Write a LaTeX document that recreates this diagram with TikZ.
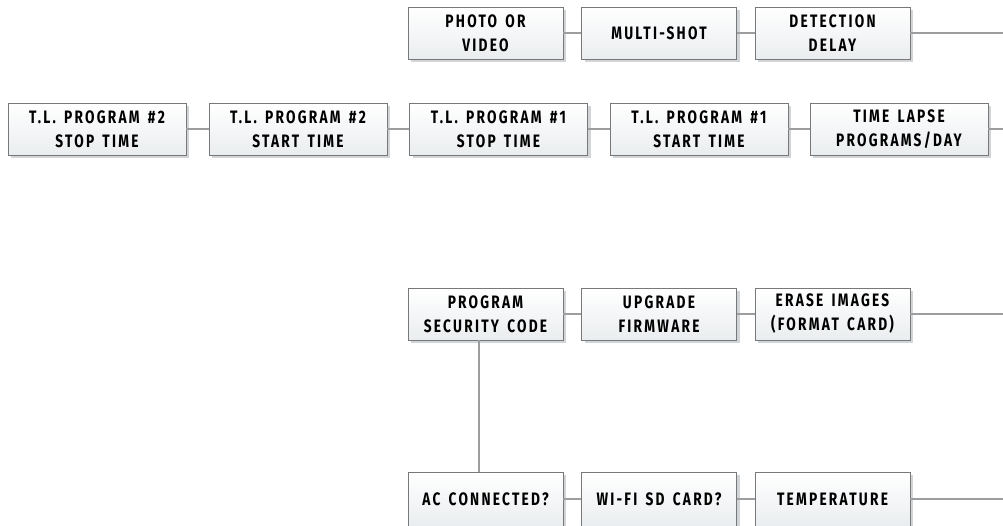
\documentclass[tikz,border=0pt]{standalone}
\usepackage{fontspec}
\newfontfamily\boxfont[FakeStretch=0.76,LetterSpace=12.5,WordSpace=1.5]{Fira Sans}
\usetikzlibrary{shadows}
\definecolor{boxedge}{RGB}{120,120,120}
\definecolor{conn}{RGB}{155,157,159}
\definecolor{shade}{RGB}{210,213,215}
\definecolor{boxbot}{RGB}{234,237,239}
\tikzset{
  menubox/.style={draw=boxedge, line width=0.9pt, top color=white, bottom color=boxbot,
    minimum height=52pt, inner sep=0pt, align=center,
    font=\boxfont\bfseries\fontsize{18}{24}\selectfont,
    drop shadow={shadow xshift=3pt, shadow yshift=-3pt, fill=shade, opacity=1}},
  narrowbox/.style={menubox, minimum width=155pt},
  widebox/.style={menubox, minimum width=178pt},
  link/.style={draw=conn, line width=2pt}
}
\begin{document}
\begin{tikzpicture}[x=1pt,y=-1pt]
\useasboundingbox (0,0) rectangle (1003,526);
\clip (0,0) rectangle (1003,526);
% top row
\node[narrowbox] (photo) at (485.5,33) {PHOTO OR\\VIDEO};
\node[narrowbox] (multi) at (659,33) {MULTI-SHOT};
\node[narrowbox] (delay) at (832.5,33) {DETECTION\\DELAY};
\coordinate (e1) at (1003,33);
% second row
\node[widebox] (p2stop) at (97,129) {T.L. PROGRAM \#2\\STOP TIME};
\node[widebox] (p2start) at (298,129) {T.L. PROGRAM \#2\\START TIME};
\node[widebox] (p1stop) at (498.5,129) {T.L. PROGRAM \#1\\STOP TIME};
\node[widebox] (p1start) at (699,129) {T.L. PROGRAM \#1\\START TIME};
\node[widebox] (tlpd) at (899,129) {TIME LAPSE\\PROGRAMS/DAY};
\coordinate (e2) at (1003,129);
% third row
\node[narrowbox] (sec) at (485.5,314) {PROGRAM\\SECURITY CODE};
\node[narrowbox] (fw) at (659,314) {UPGRADE\\FIRMWARE};
\node[narrowbox] (erase) at (832.5,314) {ERASE IMAGES\\(FORMAT CARD)};
\coordinate (e3) at (1003,314);
% bottom row
\node[narrowbox, minimum height=54pt] (ac) at (485.5,499) {AC CONNECTED?};
\node[narrowbox, minimum height=54pt] (wifi) at (659,499) {WI-FI SD CARD?};
\node[narrowbox, minimum height=54pt] (temp) at (832.5,499) {TEMPERATURE};
\coordinate (e4) at (1003,499);
% connectors
\draw[link] (photo) -- (multi);
\draw[link] (multi) -- (delay);
\draw[link] (delay) -- (e1);
\draw[link] (p2stop) -- (p2start);
\draw[link] (p2start) -- (p1stop);
\draw[link] (p1stop) -- (p1start);
\draw[link] (p1start) -- (tlpd);
\draw[link] (tlpd) -- (e2);
\draw[link] (sec) -- (fw);
\draw[link] (fw) -- (erase);
\draw[link] (erase) -- (e3);
\draw[link] (ac) -- (wifi);
\draw[link] (wifi) -- (temp);
\draw[link] (temp) -- (e4);
\draw[link] (sec.south -| 479,0) -- (ac.north -| 479,0);
\end{tikzpicture}
\end{document}
